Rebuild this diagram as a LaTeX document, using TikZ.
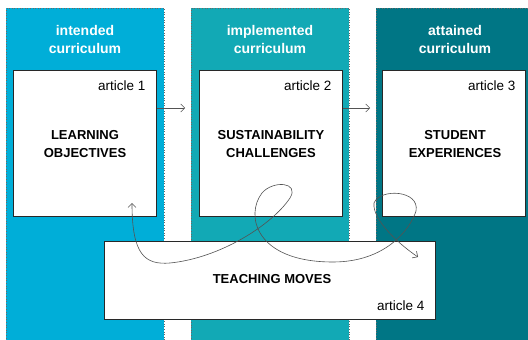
\documentclass[tikz,border=0pt]{standalone}
\usepackage{xcolor}
\usepackage{fontspec}
\setmainfont{Liberation Sans}
\usetikzlibrary{arrows.meta}

\definecolor{intendedblue}{RGB}{0,174,216}
\definecolor{implementedteal}{RGB}{18,169,181}
\definecolor{attainedteal}{RGB}{0,118,133}
\definecolor{boxline}{RGB}{40,40,40}

\begin{document}
\begin{tikzpicture}[x=1pt,y=-1pt,
    >={Straight Barb[length=4pt,width=8pt]},
    column/.style={draw=boxline!70,dotted,line width=0.6pt,anchor=north west,inner sep=0pt},
    heading/.style={text=white,font=\fontsize{14}{18}\selectfont\bfseries,align=center},
    article/.style={draw=boxline,fill=white,line width=1.1pt,anchor=north west,inner sep=0pt},
    topic/.style={font=\fontsize{13}{18}\selectfont\bfseries,align=center},
    tag/.style={font=\fontsize{13.5}{16}\selectfont,anchor=east},
    link/.style={->,draw=boxline!80,line width=0.5pt}]
    \useasboundingbox (0,0) rectangle (528,340);

    % the three curricula
    \node[column,fill=intendedblue,minimum width=158pt,minimum height=340pt] (colA) at (6,8) {};
    \node[column,fill=implementedteal,minimum width=158pt,minimum height=340pt] (colB) at (191,8) {};
    \node[column,fill=attainedteal,minimum width=158pt,minimum height=340pt] (colC) at (376,8) {};

    \node[heading] (headA) at (85,39) {intended\\curriculum};
    \node[heading] (headB) at (270,39) {implemented\\curriculum};
    \node[heading] (headC) at (455,39) {attained\\curriculum};

    % articles
    \node[article,minimum width=143pt,minimum height=146pt] (artA) at (13,70) {};
    \node[article,minimum width=143pt,minimum height=146pt] (artB) at (199,70) {};
    \node[article,minimum width=143pt,minimum height=146pt] (artC) at (382,70) {};
    \node[article,minimum width=331pt,minimum height=78pt] (artD) at (104,241) {};

    \node[tag] (tagA) at (149,86) {article 1};
    \node[tag] (tagB) at (335,86) {article 2};
    \node[tag] (tagC) at (519,86) {article 3};
    \node[tag] (tagD) at (428,306) {article 4};

    \node[topic] (objectives) at (85,144) {LEARNING\\OBJECTIVES};
    \node[topic] (challenges) at (271,144) {SUSTAINABILITY\\CHALLENGES};
    \node[topic] (experiences) at (455,144) {STUDENT\\EXPERIENCES};
    \node[topic] (moves) at (272,279) {TEACHING MOVES};

    % links
    \draw[link] (artA.east |- 0,108) -- ([xshift=-6pt]colB.west |- 0,108);
    \draw[link] (artB.east |- 0,108) -- ([xshift=-6pt]colC.west |- 0,108);

    \coordinate (curlA) at (132,203);
    \coordinate (curlB) at (418,257);
    \draw[link,<->,line width=0.6pt] (curlA)
        .. controls (132,255) and (145,265) .. (170,263)
        .. controls (220,258) and (272,225) .. (290,198)
        .. controls (300,182) and (273,180) .. (262,193)
        .. controls (245,215) and (255,262) .. (333,262)
        .. controls (385,262) and (410,230) .. (416,211)
        .. controls (420,190) and (380,188) .. (374,203)
        .. controls (372,220) and (400,245) .. (curlB);
\end{tikzpicture}
\end{document}
